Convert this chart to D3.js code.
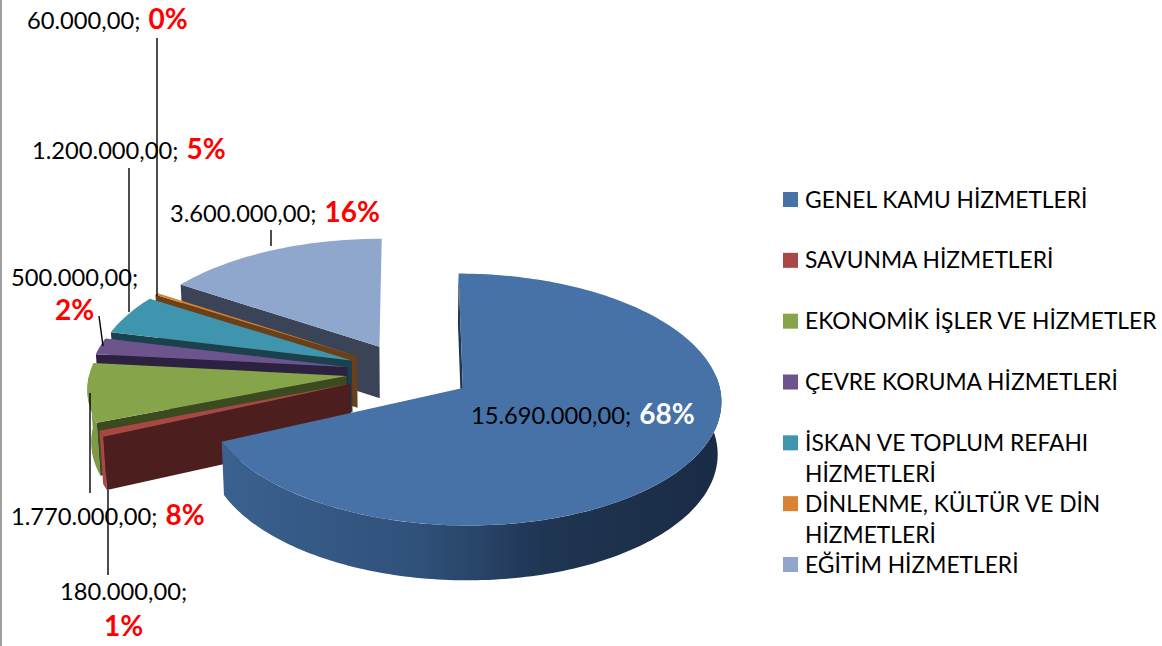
<!DOCTYPE html>
<html lang="tr">
<head>
<meta charset="utf-8">
<title>Harcama dağılımı</title>
<script src="https://cdn.jsdelivr.net/npm/d3@7"></script>
<style>
  html, body { margin: 0; padding: 0; background: #fff; }
  svg { display: block; }
  text { font-family: Lato, "Open Sans", sans-serif; }
</style>
</head>
<body>
<div id="chart"></div>
<script>
"use strict";

const categories = [
  "GENEL KAMU HİZMETLERİ",
  "SAVUNMA HİZMETLERİ",
  "EKONOMİK İŞLER VE HİZMETLER",
  "ÇEVRE KORUMA HİZMETLERİ",
  "İSKAN VE TOPLUM REFAHI HİZMETLERİ",
  "DİNLENME, KÜLTÜR VE DİN HİZMETLERİ",
  "EĞİTİM HİZMETLERİ",
];
const values = [15690000, 180000, 1770000, 500000, 1200000, 60000, 3600000];
const legendLines = [
  ["GENEL KAMU HİZMETLERİ"],
  ["SAVUNMA HİZMETLERİ"],
  ["EKONOMİK İŞLER VE HİZMETLER"],
  ["ÇEVRE KORUMA HİZMETLERİ"],
  ["İSKAN VE TOPLUM REFAHI", "HİZMETLERİ"],
  ["DİNLENME, KÜLTÜR VE DİN", "HİZMETLERİ"],
  ["EĞİTİM HİZMETLERİ"],
];

const topColors = ["#4672A8", "#A94744", "#86A44A", "#6E548D", "#3F95AD", "#D9822F", "#8FA6CD"];
const faceColors = ["#22364f", "#4C1E1E", "#3C4A20", "#2C2140", "#1A414D", "#6B4018", "#3B4457"];
const wallColors = ["url(#blueWall)", "#A94744", "#7D9A45", "#2C2140", "#1A414D", "#6B4018", "#3B4457"];

// label placement: text x / baseline, optional split line for the percent, leader line
const labelLayout = [
  { x: 471, y: 424, pctColor: "#fff" },
  { x: 60, y: 600, pctX: 104, pctY: 636, leader: [108, 490, 108, 575] },
  { x: 11, y: 525, leader: [90, 393, 90, 493] },
  { x: 11, y: 286, pctX: 55, pctY: 320, leader: [99, 316, 103, 346] },
  { x: 32, y: 159, leader: [129, 168, 129, 312] },
  { x: 27, y: 29, leader: [157, 38, 157, 296] },
  { x: 170, y: 222, leader: [271, 230, 271, 246] },
];

const width = 1162;
const height = 646;

// pie geometry, tilted disc with a little perspective
// the big slice sits slightly narrower than the small ones in the picture
const bigSlice = { cx: 411, rx: 254 };
const smallSlice = { cx: 408, rx: 257 };
const cy = 372;
const ry = 122;
const perspective = 0.09;
const depth = 52;
const bottomShrink = 0.012;
const explode = 0.24;

const svg = d3
  .select("#chart")
  .append("svg")
  .attr("width", width)
  .attr("height", height)
  .attr("viewBox", `0 0 ${width} ${height}`);

const defs = svg.append("defs");
const wallGradient = defs
  .append("linearGradient")
  .attr("id", "blueWall")
  .attr("gradientUnits", "userSpaceOnUse")
  .attr("x1", 223)
  .attr("x2", 721)
  .attr("y1", 0)
  .attr("y2", 0);
wallGradient.append("stop").attr("offset", "0%").attr("stop-color", "#3B6190");
wallGradient.append("stop").attr("offset", "40%").attr("stop-color", "#2F5079");
wallGradient.append("stop").attr("offset", "65%").attr("stop-color", "#1F3552");
wallGradient.append("stop").attr("offset", "100%").attr("stop-color", "#1A2B44");

svg.append("rect").attr("x", 0).attr("y", 0).attr("width", 2).attr("height", height).attr("fill", "#A0A0A0");

const total = d3.sum(values);
const pie = d3.pie().sort(null).value((d) => d);
const arcs = pie(values);

// disc coordinates (u right, v away from the viewer) to screen
function project(u, v, drop, shape) {
  const p = 1 / (1 + perspective * v);
  return [
    shape.cx + shape.rx * u * p * (1 - bottomShrink * drop),
    cy - ry * v * p + drop * depth * Math.sqrt(p),
  ];
}

function slicePoint(mid, angle, radius, drop, shape) {
  const u = explode * Math.sin(mid) + radius * Math.sin(angle);
  const v = explode * Math.cos(mid) + radius * Math.cos(angle);
  return project(u, v, drop, shape);
}

function sampleAngles(a0, a1) {
  const steps = Math.max(2, Math.ceil((a1 - a0) / 0.02));
  return d3.range(steps + 1).map((i) => a0 + ((a1 - a0) * i) / steps);
}

const line = d3.line();

// back to front, the big slice goes last
const slices = svg.append("g");
d3.range(arcs.length)
  .reverse()
  .forEach((i) => {
    const arc = arcs[i];
    const mid = (arc.startAngle + arc.endAngle) / 2;
    const shape = i === 0 ? bigSlice : smallSlice;
    const g = slices.append("g");

    // outer wall, near side only
    const wallStart = Math.max(arc.startAngle, Math.PI / 2 - 0.1);
    const wallEnd = Math.min(arc.endAngle, (3 * Math.PI) / 2);
    if (wallEnd > wallStart) {
      const angles = sampleAngles(wallStart, wallEnd);
      const pts = angles
        .map((a) => slicePoint(mid, a, 1, 0, shape))
        .concat(angles.slice().reverse().map((a) => slicePoint(mid, a, 1, 1, shape)));
      g.append("path").attr("d", line(pts) + "Z").attr("fill", wallColors[i]);
    }

    // radial face on the clockwise-start side
    const face = [
      slicePoint(mid, arc.startAngle, 0, 0, shape),
      slicePoint(mid, arc.startAngle, 1, 0, shape),
      slicePoint(mid, arc.startAngle, 1, 1, shape),
      slicePoint(mid, arc.startAngle, 0, 1, shape),
    ];
    g.append("path").attr("d", line(face) + "Z").attr("fill", faceColors[i]);

    // top surface
    const topPts = [slicePoint(mid, arc.startAngle, 0, 0, shape)].concat(
      sampleAngles(arc.startAngle, arc.endAngle).map((a) => slicePoint(mid, a, 1, 0, shape)),
    );
    g.append("path").attr("d", line(topPts) + "Z").attr("fill", topColors[i]);
  });

// leader lines
svg
  .append("g")
  .selectAll("line")
  .data(labelLayout.filter((d) => d.leader))
  .join("line")
  .attr("x1", (d) => d.leader[0])
  .attr("y1", (d) => d.leader[1])
  .attr("x2", (d) => d.leader[2])
  .attr("y2", (d) => d.leader[3])
  .attr("stroke", "#000")
  .attr("stroke-width", 1.4);

// data labels
const formatValue = d3.formatLocale({ decimal: ",", thousands: ".", grouping: [3] }).format(",.2f");
const valueSize = 23.7;
const pctSize = 28;

const labels = svg
  .append("g")
  .selectAll("text")
  .data(values)
  .join("text")
  .attr("x", (_, i) => labelLayout[i].x)
  .attr("y", (_, i) => labelLayout[i].y)
  .attr("font-size", valueSize)
  .attr("fill", "#000");

labels.append("tspan").text((d) => `${formatValue(d)}; `);
labels
  .filter((_, i) => labelLayout[i].pctX === undefined)
  .append("tspan")
  .attr("dx", 2)
  .attr("font-size", pctSize)
  .attr("font-weight", 700)
  .attr("fill", (_, i, nodes) => {
    const idx = values.indexOf(d3.select(nodes[i].parentNode).datum());
    return labelLayout[idx].pctColor || "#FF0000";
  })
  .text((d) => `${Math.round((d / total) * 100)}%`);

// two labels wrap, the percent sits on its own line
svg
  .append("g")
  .selectAll("text")
  .data(labelLayout.map((d, i) => ({ ...d, i })).filter((d) => d.pctX !== undefined))
  .join("text")
  .attr("x", (d) => d.pctX)
  .attr("y", (d) => d.pctY)
  .attr("font-size", pctSize)
  .attr("font-weight", 700)
  .attr("fill", "#FF0000")
  .text((d) => `${Math.round((values[d.i] / total) * 100)}%`);

// legend
const legendY = d3.scaleLinear().domain([0, categories.length - 1]).range([192, 557]);
const legend = svg
  .append("g")
  .selectAll("g")
  .data(categories)
  .join("g")
  .attr("transform", (_, i) => `translate(783,${legendY(i)})`);

legend
  .append("rect")
  .attr("width", 15)
  .attr("height", 15)
  .attr("fill", (_, i) => topColors[i]);

legend
  .append("text")
  .attr("font-size", 22.8)
  .attr("fill", "#000")
  .selectAll("tspan")
  .data((_, i) => legendLines[i])
  .join("tspan")
  .attr("x", 22)
  .attr("y", (_, i) => 15.5 + i * 31.5)
  .text((d) => d);
</script>
</body>
</html>
